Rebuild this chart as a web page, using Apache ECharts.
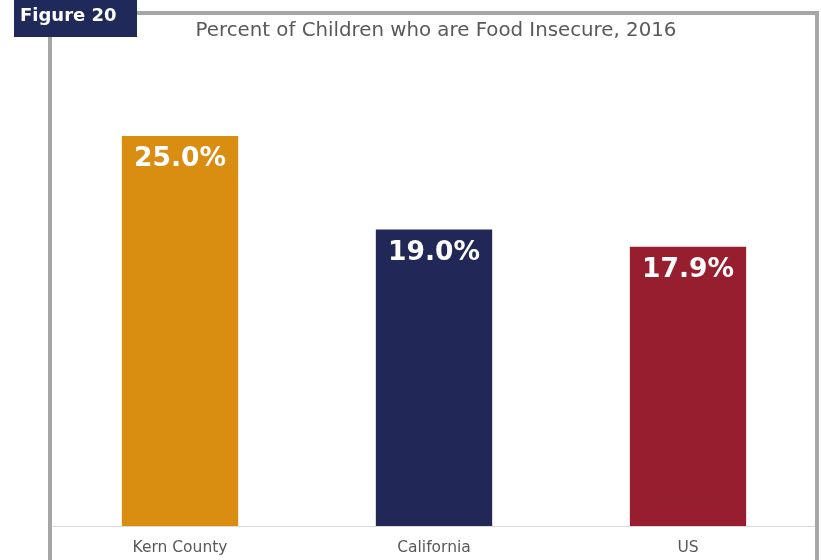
<!DOCTYPE html>
<html>
<head>
<meta charset="utf-8">
<script src="https://cdn.jsdelivr.net/npm/echarts@6/dist/echarts.min.js"></script>
<style>
  html, body { margin: 0; padding: 0; background: #ffffff; }
  #chart { width: 821px; height: 560px; }
</style>
</head>
<body>
<div id="chart"></div>
<script>
// Share of children living in food-insecure households, 2016
const categories = ['Kern County', 'California', 'US'];
const percentValues = [25.0, 19.0, 17.9];
const barColors = ['#D98E12', '#212757', '#961E2E'];

const chart = echarts.init(document.getElementById('chart'), null, { renderer: 'canvas' });

chart.setOption({
  backgroundColor: '#ffffff',
  animation: false,
  title: {
    text: 'Percent of Children who are Food Insecure, 2016',
    left: 431,
    textAlign: 'center',
    top: 16,
    textStyle: {
      fontFamily: 'DejaVu Sans',
      fontSize: 19.8,
      fontWeight: 'normal',
      color: '#595959'
    }
  },
  grid: { left: 53, right: 6, top: 58, bottom: 34 },
  xAxis: {
    type: 'category',
    data: categories,
    axisLine: { lineStyle: { color: '#d9d9d9', width: 1 } },
    axisTick: { show: false },
    axisLabel: {
      fontFamily: 'DejaVu Sans',
      fontSize: 15.5,
      color: '#595959',
      margin: 14
    }
  },
  yAxis: {
    type: 'value',
    min: 0,
    max: 30,
    show: false,
    splitLine: { show: false }
  },
  series: [{
    type: 'bar',
    barWidth: '45.8%',
    data: percentValues.map((v, i) => ({ value: v, itemStyle: { color: barColors[i] } })),
    label: {
      show: true,
      position: 'insideTop',
      distance: 10,
      formatter: p => p.value.toFixed(1) + '%',
      fontFamily: 'DejaVu Sans',
      fontWeight: 'bold',
      fontSize: 26.5,
      color: '#ffffff'
    }
  }],
  graphic: [
    {
      type: 'rect',
      shape: { x: 50, y: 13, width: 767, height: 560 },
      style: { fill: 'none', stroke: '#a6a6a6', lineWidth: 4 },
      z: 10
    },
    {
      type: 'rect',
      shape: { x: 14, y: 0, width: 123, height: 37 },
      style: { fill: '#1F2A5A' },
      z: 11
    },
    {
      type: 'text',
      left: 20,
      top: 7,
      style: {
        text: 'Figure 20',
        fill: '#ffffff',
        font: 'bold 18px "DejaVu Sans"'
      },
      z: 12
    }
  ]
});
</script>
</body>
</html>
